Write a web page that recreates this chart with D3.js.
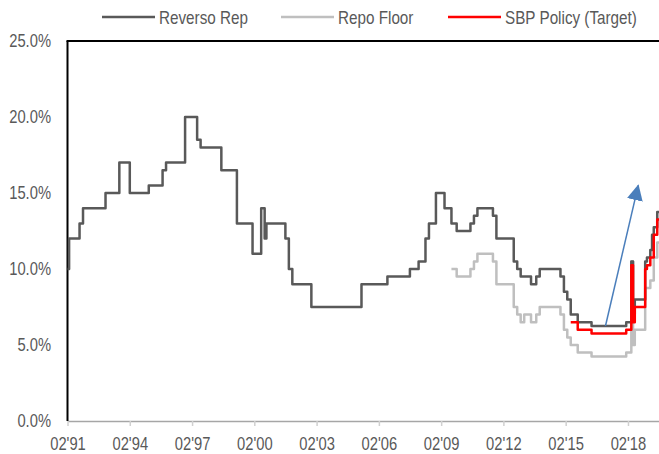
<!DOCTYPE html>
<html>
<head>
<meta charset="utf-8">
<script src="https://cdn.jsdelivr.net/npm/d3@7"></script>
<style>
  body { margin: 0; background: #fff; }
  svg text { font-family: "Liberation Sans", Arial, sans-serif; fill: #595959; }
</style>
</head>
<body>
<div id="chart"></div>
<script>
// change points (month, rate %), drawn as steps
var rrDates = ["1991-02","1991-03","1991-09","1991-11","1992-12","1993-08","1994-02","1995-01","1995-09","1995-11",
  "1996-10","1997-05","1997-07","1998-07","1999-04","2000-01","2000-06","2000-08","2000-09","2001-08","2001-10","2001-12",
  "2002-11","2005-04","2006-07","2007-08","2008-01","2008-05","2008-07","2008-11","2009-04","2009-08","2009-11",
  "2010-07","2010-09","2010-11","2011-08","2011-10","2012-08","2012-10","2012-12","2013-06","2013-09","2013-11",
  "2014-11","2015-01","2015-03","2015-05","2015-09","2016-05","2018-01","2018-04","2018-05","2018-06","2018-12",
  "2019-01","2019-03","2019-04","2019-05","2019-07","2019-08"];
var rrValues = [10,12,13,14,15,17,15,15.5,16.5,17,
  20,18.5,18,16.5,13,11,14,12,13,12,10,9,
  7.5,9,9.5,10,10.5,12,13,15,14,13,12.5,
  13,13.5,14,13.5,12,10.5,10,9.5,9,9.5,10,
  9.5,8.5,8,7,6.5,6.25,6.5,10.5,7,8,10.5,
  10.75,11.25,12.25,12.75,13.75,13.75];

var floorDates = ["2009-08","2009-11","2010-07","2010-09","2010-11","2011-08","2011-10","2012-08","2012-10","2012-12",
  "2013-02","2013-06","2013-09","2013-11","2014-11","2015-01","2015-03","2015-05","2015-09","2016-05",
  "2018-01","2018-04","2018-05","2018-06","2018-12","2019-03","2019-05","2019-07","2019-08"];
var floorValues = [10,9.5,10,10.5,11,10.5,9,7.5,7,6.5,
  7,6.5,7,7.5,7,6,5.5,5,4.5,4.25,
  4.5,10.5,5,6,8.75,9.25,10.75,11.75,11.75];

var targetDates = ["2015-05","2015-09","2016-05","2018-01","2018-04","2018-05","2018-06","2018-12","2019-01","2019-03",
  "2019-05","2019-07","2019-08"];
var targetValues = [6.5,6,5.75,6,10.25,6.5,7.5,10,10.25,10.75,12.25,13.25,13.25];

var seriesNames = ["Reverso Rep", "Repo Floor", "SBP Policy (Target)"];
var seriesColors = ["#595959", "#bfbfbf", "#ff0000"];

var yTicks = [0, 5, 10, 15, 20, 25];
var xTickLabels = ["02'91","02'94","02'97","02'00","02'03","02'06","02'09","02'12","02'15","02'18"];

// blue arrow annotation (month, %)
var arrowFrom = ["2017-01", 6.25];
var arrowTo = ["2018-08", 15.5];

var W = 659, H = 454;
var margin = {top: 41, right: 0, bottom: 33, left: 67.5};
var narrow = 0.82; // squeeze Liberation Sans to a narrow face
var parse = d3.timeParse("%Y-%m");
var parseTick = d3.timeParse("%m'%y");

var x = d3.scaleTime()
    .domain([parse("1991-02"), parse("2019-08")])
    .range([margin.left, W - margin.right]);
var y = d3.scaleLinear()
    .domain([0, 25])
    .range([H - margin.bottom, margin.top]);

var svg = d3.select("#chart").append("svg")
    .attr("width", W)
    .attr("height", H);

// x axis (gray)
var xAxis = svg.append("g")
    .attr("transform", "translate(0," + y(0) + ")")
    .call(d3.axisBottom(x)
      .tickValues(xTickLabels.map(function(t) { return parseTick(t); }))
      .tickFormat(d3.timeFormat("%m'%y"))
      .tickSize(5)
      .tickSizeOuter(0));
xAxis.select(".domain").attr("stroke", "#a6a6a6").attr("stroke-width", 1.5);
xAxis.selectAll(".tick line").attr("stroke", "#d0d0d0").attr("stroke-width", 1.5);
xAxis.selectAll(".tick text")
    .attr("y", 16)
    .attr("transform", "scale(" + narrow + ",1)")
    .style("font-size", "18px")
    .style("fill", "#595959");

// y axis labels, no ticks
var yAxis = svg.append("g")
    .attr("transform", "translate(" + margin.left + ",0)")
    .call(d3.axisLeft(y)
      .tickValues(yTicks)
      .tickFormat(function(d) { return d3.format(".1f")(d) + "%"; })
      .tickSize(0));
yAxis.select(".domain").remove();
yAxis.selectAll(".tick text")
    .attr("x", -16.5 / narrow)
    .attr("transform", "scale(" + narrow + ",1)")
    .style("font-size", "18px")
    .style("fill", "#595959");

// black frame on left and top
svg.append("line")
    .attr("x1", margin.left).attr("x2", margin.left)
    .attr("y1", y(25)).attr("y2", y(0))
    .attr("stroke", "#000").attr("stroke-width", 2);
svg.append("line")
    .attr("x1", margin.left - 1).attr("x2", W)
    .attr("y1", y(25)).attr("y2", y(25))
    .attr("stroke", "#000").attr("stroke-width", 2);

var line = d3.line()
    .curve(d3.curveStepAfter)
    .x(function(d) { return x(d[0]); })
    .y(function(d) { return y(d[1]); });

function zip(dates, vals) {
  return dates.map(function(d, i) { return [parse(d), vals[i]]; });
}

var series = [
  zip(floorDates, floorValues),
  zip(rrDates, rrValues),
  zip(targetDates, targetValues)
];
var seriesIdx = [1, 0, 2];

series.forEach(function(s, i) {
  svg.append("path")
    .datum(s)
    .attr("fill", "none")
    .attr("stroke", seriesColors[seriesIdx[i]])
    .attr("stroke-width", 2.5)
    .attr("stroke-linejoin", "round")
    .attr("d", line);
});

// arrow
svg.append("defs").append("marker")
    .attr("id", "head")
    .attr("markerUnits", "userSpaceOnUse")
    .attr("viewBox", "0 0 14 14")
    .attr("refX", 13).attr("refY", 7)
    .attr("markerWidth", 16).attr("markerHeight", 16)
    .attr("orient", "auto")
  .append("path")
    .attr("d", "M0,0L14,7L0,14Z")
    .attr("fill", "#4a7ebb");
svg.append("line")
    .attr("x1", x(parse(arrowFrom[0]))).attr("y1", y(arrowFrom[1]))
    .attr("x2", x(parse(arrowTo[0]))).attr("y2", y(arrowTo[1]))
    .attr("stroke", "#4a7ebb")
    .attr("stroke-width", 1.5)
    .attr("marker-end", "url(#head)");

// legend
var legendX = [102, 281, 448];
var legend = svg.selectAll(".legend")
    .data(seriesNames)
    .enter().append("g")
    .attr("class", "legend")
    .attr("transform", function(d, i) { return "translate(" + legendX[i] + ",17)"; });
legend.append("line")
    .attr("x1", 0).attr("x2", 53)
    .attr("stroke", function(d, i) { return seriesColors[i]; })
    .attr("stroke-width", 2.5);
legend.append("text")
    .attr("x", 57 / narrow)
    .attr("dy", "0.36em")
    .attr("transform", "scale(" + narrow + ",1)")
    .style("font-size", "18.6px")
    .text(function(d) { return d; });
</script>
</body>
</html>
